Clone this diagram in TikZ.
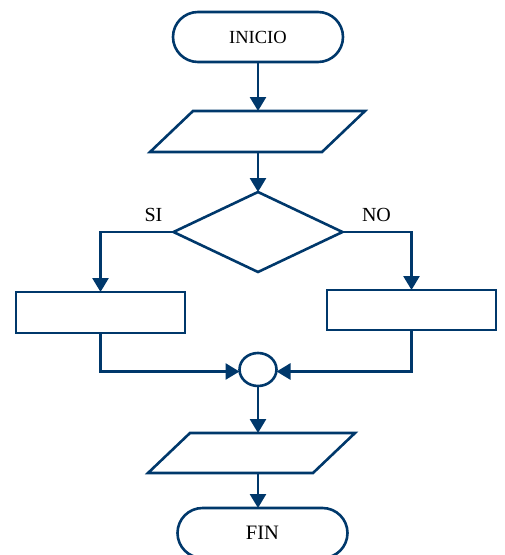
\documentclass[tikz,border=0pt]{standalone}
\usepackage{fontspec}
\setmainfont{Liberation Serif}
\usetikzlibrary{arrows.meta,positioning,shapes.geometric,shapes.misc}
\definecolor{flowblue}{HTML}{00386B}
\tikzset{
  font=\fontsize{20}{22}\selectfont,
  shapebase/.style={
    draw=flowblue,
    line width=2.6pt,
    inner sep=0pt,
    outer sep=0pt
  },
  terminal/.style={
    shapebase,
    rounded rectangle,
    minimum width=170pt,
    minimum height=50pt
  },
  iobox/.style={
    shapebase,
    draw=none,
    rectangle,
    minimum width=172pt,
    minimum height=41pt
  },
  outline/.style={draw=flowblue, line width=2.6pt, line join=miter},
  process/.style={
    shapebase,
    rectangle,
    minimum width=169pt,
    minimum height=41pt
  },
  decision/.style={
    shapebase,
    diamond,
    minimum width=169pt,
    minimum height=80pt
  },
  joint/.style={
    shapebase,
    ellipse,
    minimum width=37pt,
    minimum height=33pt
  },
  branch/.style={inner sep=0pt},
  arrow/.style={-{Triangle[length=14pt,width=16pt]}, line width=2.6pt, draw=flowblue}
}
% slanted outline round an iobox node
\newcommand{\ioslant}[2]{%
  \draw[outline] ([xshift=#2]#1.north west) -- ([xshift=#2]#1.north east)
    -- ([xshift=-#2]#1.south east) -- ([xshift=-#2]#1.south west) -- cycle;}
\begin{document}
\begin{tikzpicture}[x=1pt, y=1pt]
\useasboundingbox (0,0) rectangle (505,-555);

\node[terminal, font=\fontsize{18.5}{20}\selectfont] (inicio) at (258,-37) {INICIO};
\node[iobox, below=49pt of inicio, xshift=-0.5pt] (entrada) {};
\node[decision, below=40pt of entrada, xshift=0.5pt] (cond) {};
\node[joint, below=81pt of cond] (merge) {};
\node[iobox, minimum width=165pt, minimum height=40pt, below=47pt of merge, xshift=-6.5pt] (salida) {};
\node[terminal, font=\fontsize{20.5}{22}\selectfont, below=35pt of salida, xshift=11pt] (fin) {FIN};
\ioslant{entrada}{21.5pt}
\ioslant{salida}{21pt}

% Branches
\node[process] (siproc) at (100.5,-312.5) {};
\node[process, minimum height=40pt] (noproc) at (411.5,-310) {};
\node[branch] (si) at (153.5,-215) {SI};
\node[branch] (no) at (376.5,-215) {NO};

\draw[arrow] (inicio) -- (inicio |- entrada.north);
\draw[arrow] (entrada.south -| cond) -- (cond);
\draw[arrow] (cond.west) -| (siproc.north);
\draw[arrow] (cond.east) -| (noproc.north);
\draw[arrow] (siproc.south) |- ([yshift=-2pt]merge.west);
\draw[arrow] (noproc.south) |- ([yshift=-2pt]merge.east);
\draw[arrow] (merge.south) -- (merge.south |- salida.north);
\draw[arrow] (salida.south -| merge) -- (fin.north -| merge);

\end{tikzpicture}
\end{document}
